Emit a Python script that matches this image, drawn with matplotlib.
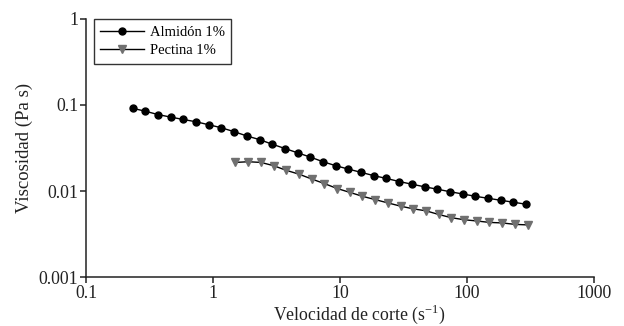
import matplotlib
matplotlib.use("Agg")
import matplotlib.pyplot as plt
from matplotlib.ticker import FixedLocator, FixedFormatter, NullLocator

plt.rcParams['font.family'] = ['Liberation Serif', 'DejaVu Serif']
plt.rcParams['mathtext.fontset'] = 'custom'
plt.rcParams['mathtext.rm'] = 'Liberation Serif'
plt.rcParams['axes.unicode_minus'] = False

# Data
almidon_x = [0.232, 0.292, 0.368, 0.463, 0.583, 0.734, 0.924, 1.16, 1.46, 1.84,
             2.32, 2.92, 3.68, 4.63, 5.83, 7.34, 9.24, 11.6, 14.6, 18.4,
             23.2, 29.2, 36.8, 46.3, 58.3, 73.4, 92.4, 116, 146, 184, 232, 292]
almidon_y = [0.0916, 0.0847, 0.0774, 0.0723, 0.0678, 0.0638, 0.0589, 0.0544, 0.0490, 0.0437,
             0.0396, 0.0350, 0.0312, 0.0278, 0.0248, 0.0219, 0.0197, 0.0180, 0.0165, 0.0151,
             0.0140, 0.0129, 0.0120, 0.0112, 0.0105, 0.00982, 0.00924, 0.00869, 0.00824,
             0.00781, 0.00741, 0.00702]

pectina_x = [1.5, 1.89, 2.38, 3.0, 3.77, 4.75, 5.98, 7.53, 9.48, 11.9, 15.0, 18.9,
             23.8, 30.0, 37.7, 47.5, 59.8, 75.3, 94.8, 119, 150, 189, 238, 300]
pectina_y = [0.0215, 0.0219, 0.0215, 0.0197, 0.0174, 0.0157, 0.0138, 0.0122, 0.0107,
             0.00966, 0.00869, 0.00795, 0.00728, 0.00667, 0.00621, 0.00589, 0.00534,
             0.00490, 0.00464, 0.00449, 0.00432, 0.00426, 0.00410, 0.00404]

x_ticks = [0.1, 1, 10, 100, 1000]
x_ticklabels = ["0.1", "1", "10", "100", "1000"]
y_ticks = [0.001, 0.01, 0.1, 1]
y_ticklabels = ["0.001", "0.01", "0.1", "1"]

fig = plt.figure(figsize=(6.24, 3.26), dpi=100)
ax = fig.add_axes([0.138, 0.15, 0.814, 0.792])

ax.plot(almidon_x, almidon_y, color='black', lw=1.0, marker='o', ms=5.0,
        mfc='black', mec='black', label='Almidón 1%')
ax.plot(pectina_x, pectina_y, color='black', lw=1.0, marker='v', ms=5.8,
        mfc='#707070', mec='#707070', label='Pectina 1%')

ax.set_xscale('log')
ax.set_yscale('log')
ax.set_xlim(0.1, 1000)
ax.set_ylim(0.001, 1)
ax.xaxis.set_major_locator(FixedLocator(x_ticks))
ax.xaxis.set_major_formatter(FixedFormatter(x_ticklabels))
ax.yaxis.set_major_locator(FixedLocator(y_ticks))
ax.yaxis.set_major_formatter(FixedFormatter(y_ticklabels))
ax.xaxis.set_minor_locator(NullLocator())
ax.yaxis.set_minor_locator(NullLocator())

for s in ['top', 'right']:
    ax.spines[s].set_visible(False)
for s in ['left', 'bottom']:
    ax.spines[s].set_linewidth(1.1)
    ax.spines[s].set_color('#222222')

ax.tick_params(axis='both', which='major', direction='out', length=4.5, width=1.1,
               labelsize=12.8, colors='#222222', pad=1)

ax.set_xlabel('Velocidad de corte (s$^{\\mathregular{-1}}$)', fontsize=12.8,
              color='#222222')
ax.xaxis.set_label_coords(0.537, -0.098)
ax.set_ylabel('Viscosidad (Pa s)', fontsize=13.5, labelpad=4, color='#222222')

leg = ax.legend(loc='upper left', bbox_to_anchor=(0.015, 1.0), fontsize=10.5,
                frameon=True, fancybox=False, edgecolor='black', handlelength=3.0,
                borderpad=0.45, labelspacing=0.35, handletextpad=0.4,
                borderaxespad=0.0)
leg.get_frame().set_linewidth(1.0)

fig.savefig('out.png', dpi=100)
